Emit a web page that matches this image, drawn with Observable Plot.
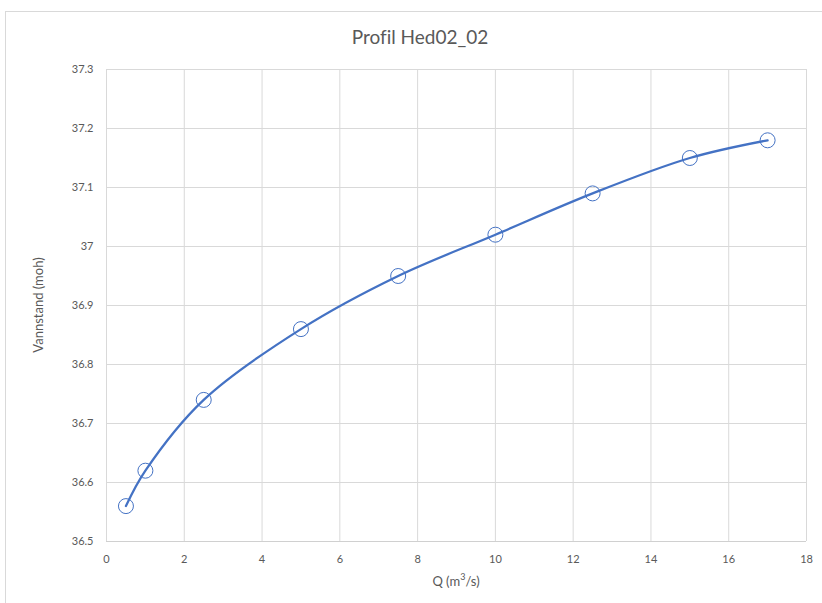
<!DOCTYPE html>
<html>
<head>
<meta charset="utf-8">
<script src="https://cdn.jsdelivr.net/npm/d3@7"></script>
<script src="https://cdn.jsdelivr.net/npm/@observablehq/plot@0.6"></script>
<style>
  html, body { margin: 0; padding: 0; background: #fff; }
  #wrap { position: relative; width: 822px; height: 603px; font-family: Lato, "Open Sans", sans-serif; overflow: hidden; font-variant-ligatures: none; }
  #box { position: absolute; left: 5px; top: 11px; width: 830px; height: 600px; border: 1px solid #d9d9d9; box-sizing: border-box; }
  #title { position: absolute; left: 0; width: 840px; top: 25px; text-align: center; font-size: 19px; color: #595959; }
  #chart { position: absolute; left: 0; top: 50px; }
  #ylab { position: absolute; left: 38px; top: 305px; transform: translate(-50%, -50%) rotate(-90deg); font-size: 13px; color: #595959; white-space: nowrap; }
  #xlab { position: absolute; left: 456px; top: 580px; transform: translate(-50%, -50%); font-size: 13px; color: #595959; white-space: nowrap; }
</style>
</head>
<body>
<div id="wrap">
  <div id="box"></div>
  <div id="title">Profil Hed02_02</div>
  <div id="chart"></div>
  <div id="ylab">Vannstand (moh)</div>
  <div id="xlab">Q (m<sup style="font-size:9px">3</sup>/s)</div>
</div>
<script>
const discharge = [0.5, 1, 2.5, 5, 7.5, 10, 12.5, 15, 17];
const waterLevel = [36.56, 36.62, 36.74, 36.86, 36.95, 37.02, 37.09, 37.15, 37.18];
const xTicks = [0, 2, 4, 6, 8, 10, 12, 14, 16, 18];
const yTicks = [36.5, 36.6, 36.7, 36.8, 36.9, 37, 37.1, 37.2, 37.3];

const data = discharge.map((q, i) => ({q, h: waterLevel[i]}));

const plot = Plot.plot({
  width: 822,
  height: 553,
  marginTop: 19,
  marginBottom: 62,
  marginLeft: 106,
  marginRight: 16,
  style: { fontFamily: "Lato, 'Open Sans', sans-serif", fontSize: "11px", color: "#595959", background: "transparent" },
  x: { domain: [0, 18], ticks: xTicks, label: null },
  y: { domain: [36.5, 37.3], ticks: yTicks, label: null },
  marks: [
    Plot.gridX(xTicks, { stroke: "#d9d9d9", strokeOpacity: 1, strokeWidth: 1 }),
    Plot.gridY(yTicks, { stroke: "#d9d9d9", strokeOpacity: 1, strokeWidth: 1 }),
    Plot.ruleY([36.5], { stroke: "#d0d0d0", strokeWidth: 1 }),
    Plot.axisX(xTicks, { tickSize: 0, tickPadding: 14, tickFormat: d => String(d), fill: "#595959" }),
    Plot.axisY(yTicks, { tickSize: 0, tickPadding: 13, tickFormat: d => String(+d.toFixed(1)), fill: "#595959" }),
    Plot.line(data, { x: "q", y: "h", curve: "catmull-rom", stroke: "#4472C4", strokeWidth: 2.25 }),
    Plot.dot(data, { x: "q", y: "h", r: 7.5, stroke: "#4472C4", strokeWidth: 1, fill: "none" })
  ]
});
document.getElementById("chart").appendChild(plot);
</script>
</body>
</html>
